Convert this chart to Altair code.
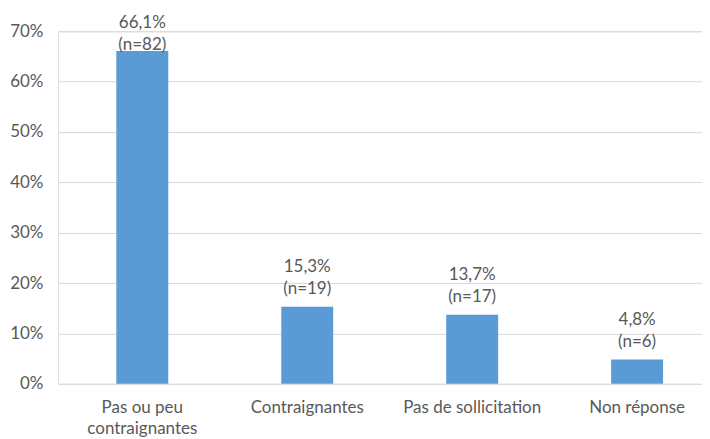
import altair as alt
import pandas as pd

categories = ["Pas ou peu\ncontraignantes", "Contraignantes", "Pas de sollicitation", "Non réponse"]
pct = [0.661, 0.153, 0.137, 0.048]
counts = [82, 19, 17, 6]
pct_labels = ["66,1%", "15,3%", "13,7%", "4,8%"]

df = pd.DataFrame({
    "cat": categories,
    "pct": pct,
    "label": [f"{p}\n(n={n})" for p, n in zip(pct_labels, counts)],
})

FONT = "Lato"
GREY = "#595959"
FS = 17

x = alt.X("cat:N", sort=categories, title=None,
          scale=alt.Scale(paddingInner=0.685, paddingOuter=0.295, align=0.6),
          axis=alt.Axis(labelExpr="split(datum.label, '\\n')", labelAngle=0,
                        labelFontSize=FS, labelColor=GREY, labelFont=FONT,
                        labelLineHeight=21, labelPadding=16, ticks=False,
                        domain=False, labelBaseline="top"))

bars = alt.Chart(df).mark_bar(color="#5B9BD5").encode(
    x=x,
    y=alt.Y("pct:Q", title=None,
            scale=alt.Scale(domain=[0, 0.7], nice=False),
            axis=alt.Axis(format=".0%", values=[0, 0.1, 0.2, 0.3, 0.4, 0.5, 0.6, 0.7],
                          labelFontSize=FS, labelColor=GREY, labelFont=FONT,
                          labelPadding=15, ticks=False, domain=False,
                          gridColor="#D9D9D9", gridWidth=1)),
)

texts = alt.Chart(df).transform_calculate(
    ly="min(datum.pct, 0.637)"
).mark_text(fontSize=FS, font=FONT, color=GREY, baseline="bottom",
            lineBreak="\n", lineHeight=22, dy=-31).encode(
    x=x,
    y=alt.Y("ly:Q"),
    text="label:N",
)

chart = (bars + texts).properties(
    width=645, height=353,
    autosize=alt.AutoSizeParams(type="none"),
    padding={"left": 50, "top": 23, "right": 0, "bottom": 60},
).configure_view(stroke=None).configure(background="white")

chart.save("out.html", embed_options={"renderer": "svg", "actions": False})
